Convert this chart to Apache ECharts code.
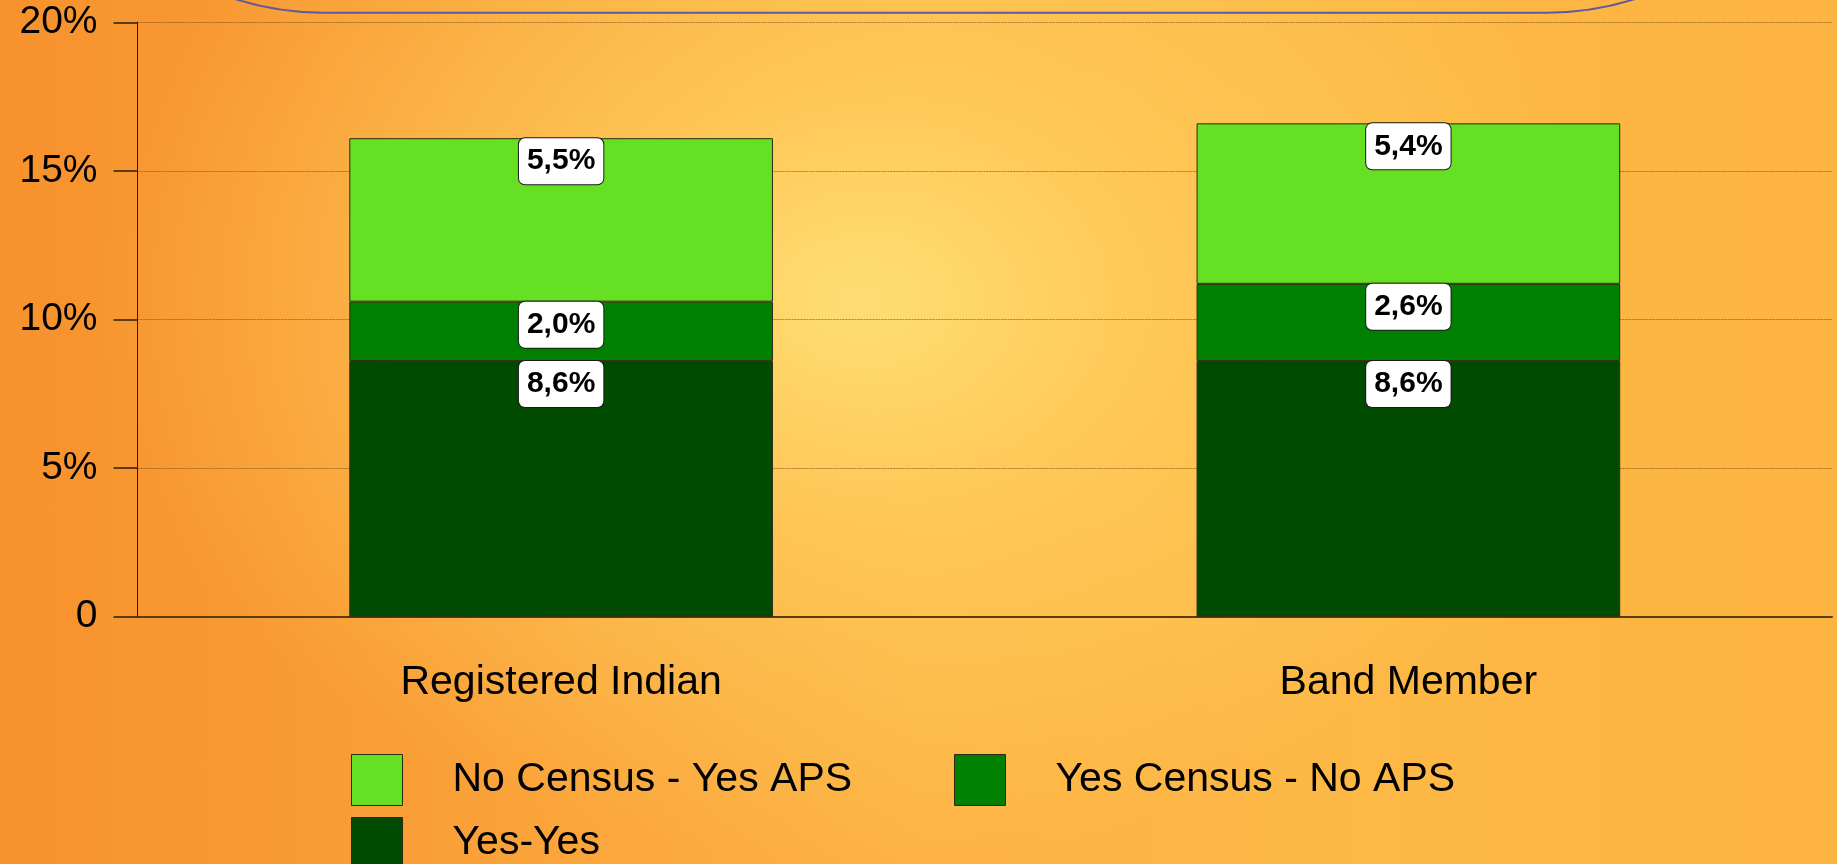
<!DOCTYPE html>
<html>
<head>
<meta charset="utf-8">
<title>Registered Indian / Band Member</title>
<script src="https://cdn.jsdelivr.net/npm/echarts@6/dist/echarts.min.js"></script>
<style>
  html, body { margin: 0; padding: 0; }
  #chart {
    width: 1837px;
    height: 864px;
    background:
      radial-gradient(ellipse 760px 560px at 860px 300px,
        rgba(255, 224, 118, 0.95) 0%,
        rgba(255, 212, 98, 0.6) 40%,
        rgba(254, 196, 80, 0) 100%),
      linear-gradient(90deg, #f7922d 0%, #f99e36 22%, #fdb445 50%, #fdb845 75%, #fdb441 100%);
  }
</style>
</head>
<body>
<div id="chart"></div>
<script>
// Categories and stacked shares (percent)
const categories = ['Registered Indian', 'Band Member'];
const yesYes = [8.6, 8.6];
const yesCensusNoAps = [2.0, 2.6];
const noCensusYesAps = [5.5, 5.4];

const seriesNames = ['No Census - Yes APS', 'Yes Census - No APS', 'Yes-Yes'];
const seriesColors = ['#66e022', '#008000', '#004b00'];

const FONT = 'Liberation Sans, Arial, sans-serif';

const chart = echarts.init(document.getElementById('chart'), null, { renderer: 'canvas' });

const label = {
  show: true,
  position: 'insideTop',
  distance: 0,
  formatter: p => p.value.toFixed(1).replace('.', ',') + '%',
  fontFamily: FONT,
  fontSize: 30,
  fontWeight: 'bold',
  color: '#000',
  lineHeight: 34,
  backgroundColor: '#ffffff',
  borderColor: '#1a1a1a',
  borderWidth: 1,
  borderRadius: 6,
  padding: [6, 8, 6, 8]
};

function barSeries(name, data, color) {
  return {
    name: name,
    type: 'bar',
    stack: 'total',
    barWidth: '50%',
    data: data,
    itemStyle: { color: color, borderColor: '#2a2a10', borderWidth: 1 },
    label: label,
    emphasis: { disabled: true }
  };
}

function legendItem(name, left, top) {
  return {
    data: [name],
    left: left,
    top: top,
    padding: 0,
    itemWidth: 51,
    itemHeight: 51,
    icon: 'rect',
    itemStyle: { borderColor: '#2a2a10', borderWidth: 1 },
    textStyle: { fontFamily: FONT, fontSize: 41, color: '#000', padding: [0, 0, 0, 45] },
    selectedMode: false
  };
}

chart.setOption({
  animation: false,
  color: seriesColors,
  grid: { left: 137.5, right: 5, top: 22.3, bottom: 247.3, containLabel: false },
  legend: [
    legendItem(seriesNames[0], 351, 754),
    legendItem(seriesNames[1], 954, 754),
    legendItem(seriesNames[2], 351, 817)
  ],
  xAxis: {
    type: 'category',
    data: categories,
    axisLine: { lineStyle: { color: '#5a3c0e', width: 2 } },
    axisTick: { alignWithLabel: true, length: 25, lineStyle: { color: '#2a1e08', width: 1 } },
    axisLabel: { fontFamily: FONT, fontSize: 41, color: '#000', margin: 45 }
  },
  yAxis: {
    type: 'value',
    min: 0,
    max: 20,
    interval: 5,
    axisLine: { show: true, lineStyle: { color: '#2a1e08', width: 1 } },
    axisTick: { show: true, length: 24, lineStyle: { color: '#2a1e08', width: 1.5 } },
    axisLabel: {
      fontFamily: FONT,
      fontSize: 39,
      color: '#000',
      margin: 40,
      formatter: v => (v === 0 ? '0' : v + '%')
    },
    splitLine: { show: true, lineStyle: { color: 'rgba(110, 70, 10, 0.6)', width: 1, type: [2, 1] } }
  },
  graphic: [
    {
      type: 'rect',
      silent: true,
      shape: { x: 33, y: -1000, width: 1804, height: 1012.7, r: 290 },
      style: { fill: 'none', stroke: '#5e5a9c', lineWidth: 2 }
    }
  ],
  series: [
    barSeries(seriesNames[2], yesYes, seriesColors[2]),
    barSeries(seriesNames[1], yesCensusNoAps, seriesColors[1]),
    barSeries(seriesNames[0], noCensusYesAps, seriesColors[0])
  ]
});
</script>
</body>
</html>
